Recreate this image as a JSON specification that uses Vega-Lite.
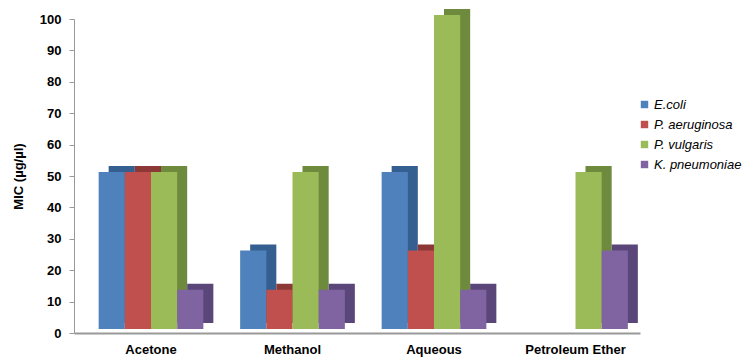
{
  "$schema": "https://vega.github.io/schema/vega-lite/v6.json",
  "width": 566,
  "height": 314,
  "autosize": {"type": "none"},
  "padding": {"left": 74, "top": 19, "right": 112, "bottom": 25},
  "background": "white",
  "config": {
    "view": {"stroke": null},
    "font": "Liberation Sans"
  },
  "data": {
    "values": [
      {"solvent": "Acetone", "organism": "E.coli", "mic": 50},
      {"solvent": "Acetone", "organism": "P. aeruginosa", "mic": 50},
      {"solvent": "Acetone", "organism": "P. vulgaris", "mic": 50},
      {"solvent": "Acetone", "organism": "K. pneumoniae", "mic": 12.5},
      {"solvent": "Methanol", "organism": "E.coli", "mic": 25},
      {"solvent": "Methanol", "organism": "P. aeruginosa", "mic": 12.5},
      {"solvent": "Methanol", "organism": "P. vulgaris", "mic": 50},
      {"solvent": "Methanol", "organism": "K. pneumoniae", "mic": 12.5},
      {"solvent": "Aqueous", "organism": "E.coli", "mic": 50},
      {"solvent": "Aqueous", "organism": "P. aeruginosa", "mic": 25},
      {"solvent": "Aqueous", "organism": "P. vulgaris", "mic": 100},
      {"solvent": "Aqueous", "organism": "K. pneumoniae", "mic": 12.5},
      {"solvent": "Petroleum Ether", "organism": "E.coli", "mic": 0},
      {"solvent": "Petroleum Ether", "organism": "P. aeruginosa", "mic": 0},
      {"solvent": "Petroleum Ether", "organism": "P. vulgaris", "mic": 50},
      {"solvent": "Petroleum Ether", "organism": "K. pneumoniae", "mic": 25}
    ]
  },
  "encoding": {
    "x": {
      "field": "solvent",
      "type": "nominal",
      "sort": ["Acetone", "Methanol", "Aqueous", "Petroleum Ether"],
      "scale": {"paddingInner": 0.26, "paddingOuter": 0.13, "align": 0.67},
      "axis": {
        "title": null,
        "labelAngle": 0,
        "labelFontWeight": "bold",
        "labelFontSize": 13,
        "labelColor": "black",
        "labelPadding": 10,
        "ticks": false,
        "domainColor": "#999999",
        "domainWidth": 2
      }
    },
    "y": {
      "field": "mic",
      "type": "quantitative",
      "scale": {"domain": [0, 100]},
      "axis": {
        "title": "MIC (µg/µl)",
        "titleFontSize": 13,
        "titleFontWeight": "bold",
        "titleColor": "black",
        "titlePadding": 14,
        "values": [0, 10, 20, 30, 40, 50, 60, 70, 80, 90, 100],
        "grid": false,
        "labelFontWeight": "bold",
        "labelFontSize": 13,
        "labelColor": "black",
        "labelPadding": 8,
        "tickColor": "#999999",
        "tickSize": 5,
        "domainColor": "#999999"
      }
    }
  },
  "layer": [
    {
      "mark": {"type": "bar", "yOffset": -10},
      "encoding": {
        "xOffset": {
          "field": "organism",
          "type": "nominal",
          "sort": ["E.coli", "P. aeruginosa", "P. vulgaris", "K. pneumoniae"],
          "scale": {"range": [10, 114.7]}
        },
        "color": {
          "field": "organism",
          "type": "nominal",
          "sort": ["E.coli", "P. aeruginosa", "P. vulgaris", "K. pneumoniae"],
          "scale": {"range": ["#365F91", "#8C3836", "#6E8A3D", "#5A4678"]},
          "legend": null
        }
      }
    },
    {
      "mark": {"type": "bar", "yOffset": -4},
      "encoding": {
        "xOffset": {
          "field": "organism",
          "type": "nominal",
          "sort": ["E.coli", "P. aeruginosa", "P. vulgaris", "K. pneumoniae"]
        },
        "color": {
          "field": "organism",
          "type": "nominal",
          "sort": ["E.coli", "P. aeruginosa", "P. vulgaris", "K. pneumoniae"],
          "scale": {"range": ["#4F81BD", "#C0504D", "#9BBB59", "#8064A2"]},
          "legend": {
            "title": null,
            "orient": "none",
            "legendX": 564,
            "legendY": 79,
            "symbolType": "square",
            "symbolSize": 55,
            "symbolStrokeWidth": 0,
            "labelFontSize": 13,
            "labelFontStyle": "italic",
            "labelColor": "black",
            "labelOffset": 3,
            "rowPadding": 6
          }
        }
      }
    }
  ],
  "resolve": {"scale": {"color": "independent", "xOffset": "independent"}}
}
